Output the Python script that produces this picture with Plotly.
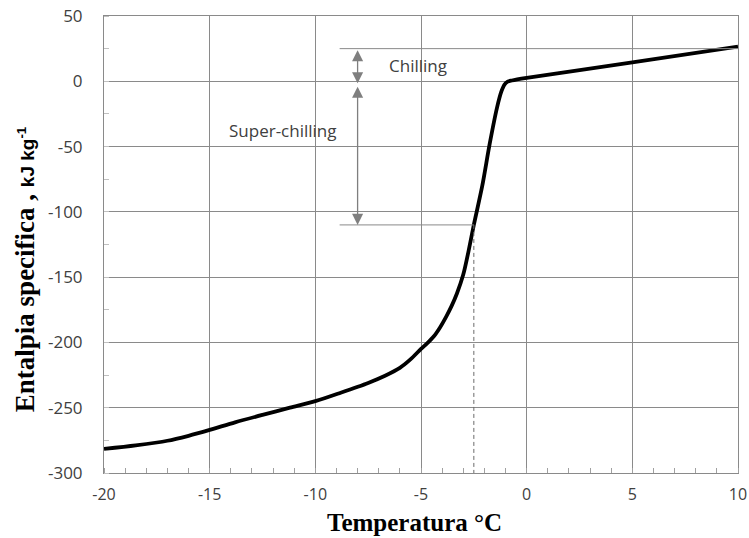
import plotly.graph_objects as go

# Data
temp = [-20, -18.5, -17, -16, -15, -13.8, -12.5, -11.2, -10, -8.8, -7.5, -6.7, -6, -5.5, -5, -4.7, -4.4, -4.1, -3.8, -3.55, -3.3, -3.0, -2.75, -2.5, -2.1, -1.75, -1.4, -1.2, -1.05, -0.9, -0.7, 0, 5, 10]
enthalpy = [-281.5, -278.8, -275.3, -271.5, -267.0, -261.2, -255.5, -250.0, -245.0, -238.5, -231.0, -225.5, -219.5, -213.0, -205.0, -200.5, -195.5, -188.5, -180.0, -172.0, -162.5, -148.0, -130.0, -110.0, -80.0, -48.0, -20.0, -8.0, -2.5, -0.3, 0.6, 2.6, 14.5, 26.5]

x_ticks = [-20, -15, -10, -5, 0, 5, 10]
y_ticks = [-300, -250, -200, -150, -100, -50, 0, 50]

# Annotation guide values
guide_left = -8.85
arrow_x = -8.0
chill_top = 25
chill_bottom = -1.5
super_top = -3
super_bottom = -110
freeze_temp = -2.5

grid_col = "#8a8a8a"
txt_col = "#404040"

fig = go.Figure()
fig.add_trace(go.Scatter(x=temp, y=enthalpy, mode="lines",
                         line=dict(color="black", width=3.8, shape="spline", smoothing=0.8),
                         showlegend=False, hoverinfo="skip"))

# guide lines
fig.add_trace(go.Scatter(x=[guide_left, 10], y=[chill_top, chill_top], mode="lines",
                         line=dict(color=grid_col, width=1), showlegend=False, hoverinfo="skip"))
fig.add_trace(go.Scatter(x=[guide_left, freeze_temp], y=[super_bottom, super_bottom], mode="lines",
                         line=dict(color=grid_col, width=1), showlegend=False, hoverinfo="skip"))
fig.add_trace(go.Scatter(x=[freeze_temp, freeze_temp], y=[super_bottom, -300], mode="lines",
                         line=dict(color="#6a6a6a", width=1, dash="4px,3px"), showlegend=False, hoverinfo="skip"))

arrow_style = dict(showarrow=True, text="", axref="x", ayref="y", xref="x", yref="y",
                   arrowside="end+start", arrowhead=2, arrowsize=1.7, arrowwidth=1.3,
                   arrowcolor="#7f7f7f", standoff=0, startstandoff=0)
fig.add_annotation(x=arrow_x, y=chill_bottom, ax=arrow_x, ay=chill_top, **arrow_style)
fig.add_annotation(x=arrow_x, y=super_bottom, ax=arrow_x, ay=super_top, **arrow_style)

fig.add_annotation(x=-6.6, y=12, xref="x", yref="y", text="Chilling", showarrow=False,
                   xanchor="left", yanchor="middle",
                   font=dict(family="Open Sans", size=17, color=txt_col))
fig.add_annotation(x=-8.9, y=-38, xref="x", yref="y", text="Super-chilling", showarrow=False,
                   xanchor="right", yanchor="middle",
                   font=dict(family="Open Sans", size=17, color=txt_col))

# axis titles
fig.add_annotation(x=-0.1246, y=0.446, xref="paper", yref="paper", textangle=-90,
                   showarrow=False, xanchor="center", yanchor="middle",
                   text="<b>Entalpia specifica , </b><span style='font-family:Liberation Sans;font-size:19px'><b>kJ kg<sup>-1</sup></b></span>",
                   font=dict(family="Liberation Serif", size=27, color="black"))
fig.add_annotation(x=0.489, y=-0.1395, xref="paper", yref="paper",
                   showarrow=False, xanchor="center", yanchor="bottom",
                   text="<b>Temperatura °C</b>", borderpad=0,
                   font=dict(family="Liberation Serif", size=25, color="black"))

axis_common = dict(showgrid=True, gridcolor=grid_col, gridwidth=1,
                   showline=True, linecolor=grid_col, linewidth=1, mirror=True,
                   zeroline=False, ticks="", automargin=False)

fig.update_xaxes(range=[-20, 10], tickvals=x_ticks, ticktext=[str(v) for v in x_ticks],
                 minor=dict(dtick=1, tick0=0, ticks="inside", ticklen=5, tickcolor="#a0a0a0", showgrid=False),
                 ticklabelstandoff=7, tickfont=dict(family="Open Sans", size=16, color=txt_col),
                 **axis_common)
fig.update_yaxes(range=[-300, 50], tickvals=y_ticks, ticktext=[str(v) for v in y_ticks],
                 minor=dict(dtick=25, tick0=0, ticks="inside", ticklen=5, tickcolor="#c0c0c0", showgrid=False),
                 ticklabelstandoff=17, tickfont=dict(family="Open Sans", size=17, color=txt_col),
                 **axis_common)

fig.update_layout(width=749, height=538, margin=dict(l=104, r=11, t=16, b=65),
                  plot_bgcolor="white", paper_bgcolor="white")

fig.write_html("out.html", config={"displayModeBar": False},
               post_script="document.body.style.margin='0';document.body.style.overflow='hidden';")
